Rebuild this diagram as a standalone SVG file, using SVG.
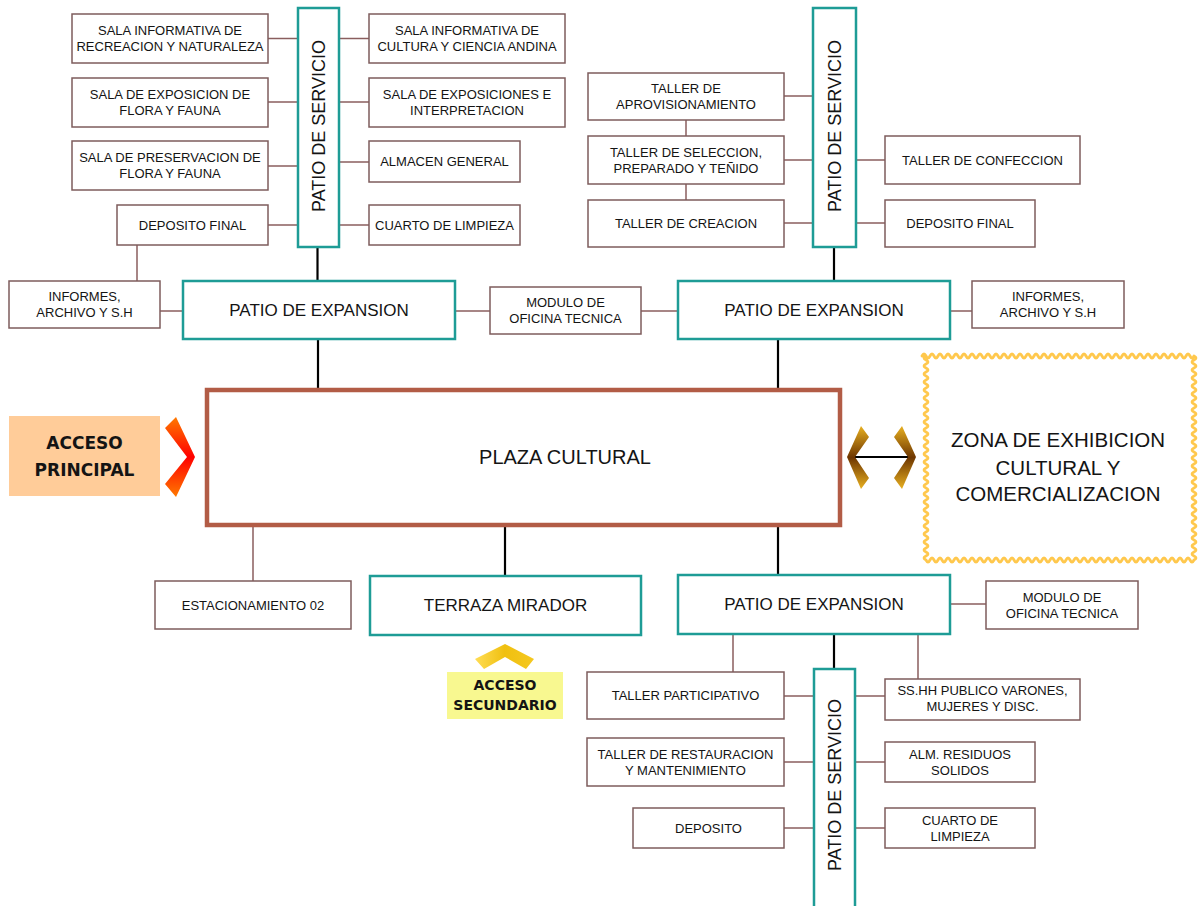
<svg xmlns="http://www.w3.org/2000/svg" width="1200" height="906" viewBox="0 0 1200 906">
<defs>
<style>
.box{fill:#ffffff;stroke:#7E5C5C;stroke-width:1.5}
.tbox{fill:#ffffff;stroke:#1E9C96;stroke-width:2.5}
.ln{stroke:#8A5E5E;stroke-width:1.5;fill:none}
.bl{stroke:#000000;stroke-width:2.2;fill:none}
text{font-family:"Liberation Sans",Arial,sans-serif;fill:#141414;text-anchor:middle}
.s{font-size:13px}
.m{font-size:17px}
.v{font-size:18px}
.acc{font-family:"DejaVu Sans","Liberation Sans",sans-serif;font-weight:bold}
</style>
<linearGradient id="gRed" x1="0" y1="0" x2="0" y2="1">
<stop offset="0" stop-color="#FF7A00"/><stop offset="0.5" stop-color="#FF0000"/><stop offset="1" stop-color="#FF7A00"/>
</linearGradient>
<linearGradient id="gBrown" x1="0" y1="0" x2="0" y2="1">
<stop offset="0" stop-color="#E8B020"/><stop offset="0.5" stop-color="#6E3600"/><stop offset="1" stop-color="#E8B020"/>
</linearGradient>
<linearGradient id="gYel" x1="0" y1="0" x2="1" y2="0">
<stop offset="0" stop-color="#FFDD55"/><stop offset="0.5" stop-color="#F0C010"/><stop offset="1" stop-color="#F5C820"/>
</linearGradient>
</defs>

<g id="connectors">
<!-- top-left cluster -->
<line class="ln" x1="268" y1="38.5" x2="298" y2="38.5"/>
<line class="ln" x1="268" y1="102" x2="298" y2="102"/>
<line class="ln" x1="268" y1="166" x2="298" y2="166"/>
<line class="ln" x1="268" y1="225" x2="298" y2="225"/>
<line class="ln" x1="339" y1="38.5" x2="369" y2="38.5"/>
<line class="ln" x1="339" y1="102" x2="369" y2="102"/>
<line class="ln" x1="339" y1="162" x2="369" y2="162"/>
<line class="ln" x1="339" y1="225" x2="369" y2="225"/>
<line class="ln" x1="137" y1="245" x2="137" y2="281"/>
<line class="bl" x1="317.5" y1="247" x2="317.5" y2="281"/>
<line class="ln" x1="160" y1="311" x2="183" y2="311"/>
<line class="ln" x1="455" y1="311" x2="490" y2="311"/>
<!-- top-right cluster -->
<line class="ln" x1="784" y1="96" x2="813" y2="96"/>
<line class="ln" x1="784" y1="160" x2="813" y2="160"/>
<line class="ln" x1="784" y1="223" x2="813" y2="223"/>
<line class="ln" x1="856" y1="160" x2="885" y2="160"/>
<line class="ln" x1="856" y1="223" x2="885" y2="223"/>
<line class="ln" x1="686" y1="120" x2="686" y2="136"/>
<line class="ln" x1="686" y1="184" x2="686" y2="200"/>
<line class="bl" x1="834" y1="247" x2="834" y2="281"/>
<line class="ln" x1="641" y1="311" x2="678" y2="311"/>
<line class="ln" x1="950" y1="311" x2="972" y2="311"/>
<!-- plaza -->
<line class="bl" x1="318" y1="339" x2="318" y2="388"/>
<line class="bl" x1="778" y1="339" x2="778" y2="388"/>
<line class="ln" x1="253" y1="527" x2="253" y2="581"/>
<line class="bl" x1="505" y1="527" x2="505" y2="576"/>
<line class="bl" x1="778" y1="527" x2="778" y2="575"/>
<line class="bl" x1="850" y1="457" x2="912" y2="457"/>
<!-- bottom cluster -->
<line class="ln" x1="950" y1="604" x2="986" y2="604"/>
<line class="ln" x1="733" y1="634" x2="733" y2="672"/>
<line class="bl" x1="834" y1="634" x2="834" y2="669"/>
<line class="ln" x1="918" y1="634" x2="918" y2="679"/>
<line class="ln" x1="784" y1="696" x2="814" y2="696"/>
<line class="ln" x1="855" y1="696" x2="885" y2="696"/>
<line class="ln" x1="784" y1="762" x2="814" y2="762"/>
<line class="ln" x1="855" y1="762" x2="885" y2="762"/>
<line class="ln" x1="784" y1="828" x2="814" y2="828"/>
<line class="ln" x1="855" y1="828" x2="885" y2="828"/>
</g>

<!-- TOP LEFT -->
<g id="sala-recreacion"><rect class="box" x="72" y="14" width="196" height="49"/><text class="s" x="170" y="35">SALA INFORMATIVA DE</text><text class="s" x="170" y="51">RECREACION Y NATURALEZA</text></g>
<g id="sala-exposicion-flora"><rect class="box" x="72" y="78" width="196" height="49"/><text class="s" x="170" y="99">SALA DE EXPOSICION DE</text><text class="s" x="170" y="115">FLORA Y FAUNA</text></g>
<g id="sala-preservacion"><rect class="box" x="72" y="141" width="196" height="49"/><text class="s" x="170" y="162">SALA DE PRESERVACION DE</text><text class="s" x="170" y="178">FLORA Y FAUNA</text></g>
<g id="deposito-final-1"><rect class="box" x="117" y="205" width="151" height="40"/><text class="s" x="192.5" y="229.5">DEPOSITO FINAL</text></g>
<g id="sala-cultura"><rect class="box" x="369" y="14" width="196" height="49"/><text class="s" x="467" y="35">SALA INFORMATIVA DE</text><text class="s" x="467" y="51">CULTURA Y CIENCIA ANDINA</text></g>
<g id="sala-exposiciones"><rect class="box" x="369" y="78" width="196" height="49"/><text class="s" x="467" y="99">SALA DE EXPOSICIONES E</text><text class="s" x="467" y="115">INTERPRETACION</text></g>
<g id="almacen-general"><rect class="box" x="369" y="141" width="151" height="41"/><text class="s" x="444.5" y="166">ALMACEN GENERAL</text></g>
<g id="cuarto-limpieza-1"><rect class="box" x="369" y="205" width="151" height="40"/><text class="s" x="444.5" y="229.5">CUARTO DE LIMPIEZA</text></g>
<g id="patio-servicio-1"><rect class="tbox" x="298" y="8" width="41" height="239"/><text class="v" transform="translate(325,126) rotate(-90)" x="0" y="0">PATIO DE SERVICIO</text></g>
<g id="informes-1"><rect class="box" x="9" y="281" width="151" height="47"/><text class="s" x="84.5" y="301">INFORMES,</text><text class="s" x="84.5" y="317">ARCHIVO Y S.H</text></g>
<g id="patio-expansion-1"><rect class="tbox" x="183" y="281" width="272" height="58"/><text class="m" x="319" y="316">PATIO DE EXPANSION</text></g>
<g id="modulo-oficina-1"><rect class="box" x="490" y="287" width="151" height="47"/><text class="s" x="565.5" y="307">MODULO DE</text><text class="s" x="565.5" y="323">OFICINA TECNICA</text></g>

<!-- TOP RIGHT -->
<g id="taller-aprovisionamiento"><rect class="box" x="588" y="73" width="196" height="47"/><text class="s" x="686" y="93">TALLER DE</text><text class="s" x="686" y="109">APROVISIONAMIENTO</text></g>
<g id="taller-seleccion"><rect class="box" x="588" y="136" width="196" height="48"/><text class="s" x="686" y="156.5">TALLER DE SELECCION,</text><text class="s" x="686" y="172.5">PREPARADO Y TEÑIDO</text></g>
<g id="taller-creacion"><rect class="box" x="588" y="200" width="196" height="47"/><text class="s" x="686" y="228">TALLER DE CREACION</text></g>
<g id="patio-servicio-2"><rect class="tbox" x="813" y="8" width="43" height="239"/><text class="v" transform="translate(841,126) rotate(-90)" x="0" y="0">PATIO DE SERVICIO</text></g>
<g id="taller-confeccion"><rect class="box" x="885" y="136" width="195" height="48"/><text class="s" x="982.5" y="164.5">TALLER DE CONFECCION</text></g>
<g id="deposito-final-2"><rect class="box" x="885" y="200" width="150" height="47"/><text class="s" x="960" y="228">DEPOSITO FINAL</text></g>
<g id="patio-expansion-2"><rect class="tbox" x="678" y="281" width="272" height="58"/><text class="m" x="814" y="316">PATIO DE EXPANSION</text></g>
<g id="informes-2"><rect class="box" x="972" y="281" width="152" height="47"/><text class="s" x="1048" y="301">INFORMES,</text><text class="s" x="1048" y="317">ARCHIVO Y S.H</text></g>

<!-- MIDDLE -->
<g id="acceso-principal"><rect x="9" y="416" width="151" height="80" fill="#FFCC99"/><text class="acc" font-size="17" x="84.5" y="449">ACCESO</text><text class="acc" font-size="17" x="84.5" y="476">PRINCIPAL</text>
<polygon points="165,428 176,417 195,457 176,497 165,484 187,457" fill="url(#gRed)"/></g>
<g id="plaza-cultural"><rect x="207" y="390" width="633" height="135" fill="#ffffff" stroke="#B25C46" stroke-width="4.5"/><text x="565" y="464" font-size="20">PLAZA CULTURAL</text></g>
<g id="flechas-zona">
<polygon points="861,426 869,437 855,457 869,478 861,489 847,457" fill="url(#gBrown)"/>
<polygon points="902,426 894,437 908,457 894,478 902,489 916,457" fill="url(#gBrown)"/>
</g>
<g id="zona-exhibicion">
<path fill="#ffffff" stroke="#FFC84D" stroke-width="2.8" stroke-linejoin="round" d="M922,356 q2,-4 4,0 t4,0 t4,0 t4,0 t4,0 t4,0 t4,0 t4,0 t4,0 t4,0 t4,0 t4,0 t4,0 t4,0 t4,0 t4,0 t4,0 t4,0 t4,0 t4,0 t4,0 t4,0 t4,0 t4,0 t4,0 t4,0 t4,0 t4,0 t4,0 t4,0 t4,0 t4,0 t4,0 t4,0 t4,0 t4,0 t4,0 t4,0 t4,0 t4,0 t4,0 t4,0 t4,0 t4,0 t4,0 t4,0 t4,0 t4,0 t4,0 t4,0 t4,0 t4,0 t4,0 t4,0 t4,0 t4,0 t4,0 t4,0 t4,0 t4,0 t4,0 t4,0 t4,0 t4,0 t4,0 t4,0 t4,0 t4,0 q4,2 0,4 t0,4 t0,4 t0,4 t0,4 t0,4 t0,4 t0,4 t0,4 t0,4 t0,4 t0,4 t0,4 t0,4 t0,4 t0,4 t0,4 t0,4 t0,4 t0,4 t0,4 t0,4 t0,4 t0,4 t0,4 t0,4 t0,4 t0,4 t0,4 t0,4 t0,4 t0,4 t0,4 t0,4 t0,4 t0,4 t0,4 t0,4 t0,4 t0,4 t0,4 t0,4 t0,4 t0,4 t0,4 t0,4 t0,4 t0,4 t0,4 t0,4 t0,4 q-2,4 -4,0 t-4,0 t-4,0 t-4,0 t-4,0 t-4,0 t-4,0 t-4,0 t-4,0 t-4,0 t-4,0 t-4,0 t-4,0 t-4,0 t-4,0 t-4,0 t-4,0 t-4,0 t-4,0 t-4,0 t-4,0 t-4,0 t-4,0 t-4,0 t-4,0 t-4,0 t-4,0 t-4,0 t-4,0 t-4,0 t-4,0 t-4,0 t-4,0 t-4,0 t-4,0 t-4,0 t-4,0 t-4,0 t-4,0 t-4,0 t-4,0 t-4,0 t-4,0 t-4,0 t-4,0 t-4,0 t-4,0 t-4,0 t-4,0 t-4,0 t-4,0 t-4,0 t-4,0 t-4,0 t-4,0 t-4,0 t-4,0 t-4,0 t-4,0 t-4,0 t-4,0 t-4,0 t-4,0 t-4,0 t-4,0 t-4,0 t-4,0 q-4,-2 0,-4 t0,-4 t0,-4 t0,-4 t0,-4 t0,-4 t0,-4 t0,-4 t0,-4 t0,-4 t0,-4 t0,-4 t0,-4 t0,-4 t0,-4 t0,-4 t0,-4 t0,-4 t0,-4 t0,-4 t0,-4 t0,-4 t0,-4 t0,-4 t0,-4 t0,-4 t0,-4 t0,-4 t0,-4 t0,-4 t0,-4 t0,-4 t0,-4 t0,-4 t0,-4 t0,-4 t0,-4 t0,-4 t0,-4 t0,-4 t0,-4 t0,-4 t0,-4 t0,-4 t0,-4 t0,-4 t0,-4 t0,-4 t0,-4 t0,-4 t0,-4 Z"/>
<text x="1058" y="447" font-size="20.5">ZONA DE EXHIBICION</text>
<text x="1058" y="475" font-size="20.5">CULTURAL Y</text>
<text x="1058" y="501" font-size="20.5">COMERCIALIZACION</text>
</g>

<!-- BOTTOM -->
<g id="estacionamiento"><rect class="box" x="155" y="581" width="196" height="48"/><text class="s" x="253" y="609.5">ESTACIONAMIENTO 02</text></g>
<g id="terraza-mirador"><rect class="tbox" x="370" y="576" width="271" height="59"/><text class="m" x="505.5" y="611">TERRAZA MIRADOR</text></g>
<g id="acceso-secundario"><polygon points="475,659 505,644 534,659 526,669 505,657 484,669" fill="url(#gYel)"/><rect x="447" y="672" width="116" height="47" fill="#F8F890"/><text class="acc" font-size="14" x="505" y="690">ACCESO</text><text class="acc" font-size="14" x="505" y="710">SECUNDARIO</text></g>
<g id="patio-expansion-3"><rect class="tbox" x="678" y="575" width="272" height="59"/><text class="m" x="814" y="610">PATIO DE EXPANSION</text></g>
<g id="modulo-oficina-2"><rect class="box" x="986" y="581" width="152" height="48"/><text class="s" x="1062" y="601.5">MODULO DE</text><text class="s" x="1062" y="617.5">OFICINA TECNICA</text></g>
<g id="taller-participativo"><rect class="box" x="587" y="672" width="197" height="47"/><text class="s" x="685.5" y="700">TALLER PARTICIPATIVO</text></g>
<g id="patio-servicio-3"><rect class="tbox" x="814" y="669" width="41" height="245"/><text class="v" transform="translate(841,785) rotate(-90)" x="0" y="0">PATIO DE SERVICIO</text></g>
<g id="sshh"><rect class="box" x="885" y="679" width="195" height="41"/><text class="s" x="982.5" y="695">SS.HH PUBLICO VARONES,</text><text class="s" x="982.5" y="711">MUJERES Y DISC.</text></g>
<g id="taller-restauracion"><rect class="box" x="587" y="738" width="197" height="48"/><text class="s" x="685.5" y="758.5">TALLER DE RESTAURACION</text><text class="s" x="685.5" y="774.5">Y MANTENIMIENTO</text></g>
<g id="alm-residuos"><rect class="box" x="885" y="742" width="150" height="40"/><text class="s" x="960" y="758.5">ALM. RESIDUOS</text><text class="s" x="960" y="774.5">SOLIDOS</text></g>
<g id="deposito"><rect class="box" x="633" y="808" width="151" height="40"/><text class="s" x="708.5" y="832.5">DEPOSITO</text></g>
<g id="cuarto-limpieza-2"><rect class="box" x="885" y="808" width="150" height="40"/><text class="s" x="960" y="824.5">CUARTO DE</text><text class="s" x="960" y="840.5">LIMPIEZA</text></g>
</svg>
